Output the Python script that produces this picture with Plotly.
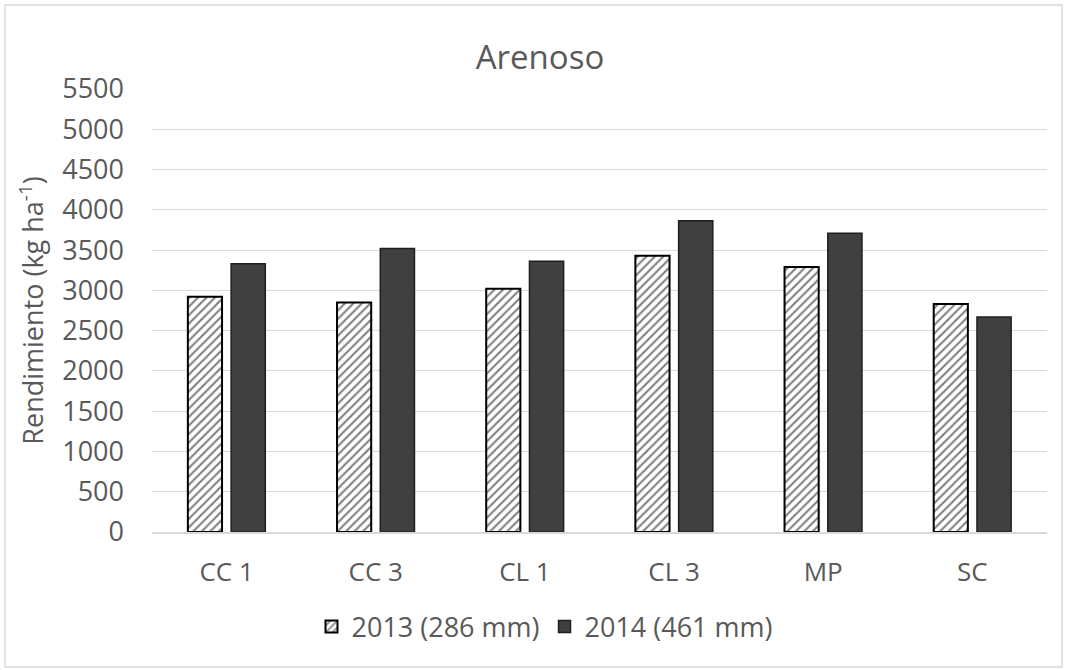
import plotly.graph_objects as go

# Rendimiento por tratamiento en suelo arenoso
categorias = ["CC 1", "CC 3", "CL 1", "CL 3", "MP", "SC"]
serie_2013 = [2920, 2850, 3020, 3430, 3290, 2830]
serie_2014 = [3330, 3520, 3360, 3865, 3710, 2670]
nombre_2013 = "2013 (286 mm)"
nombre_2014 = "2014 (461 mm)"
ticks_y = list(range(0, 5501, 500))

FONT = "Open Sans"
GRIS = "#595959"

W, H = 1065, 670
L, R, T, B = 152, 18, 89, 138

fig = go.Figure()
fig.add_trace(go.Bar(
    x=categorias, y=serie_2013, name=nombre_2013,
    marker=dict(
        color="white",
        line=dict(color="black", width=2),
        pattern=dict(shape="/", fgcolor="black", bgcolor="white", size=6, solidity=0.35),
    ),
))
fig.add_trace(go.Bar(
    x=categorias, y=serie_2014, name=nombre_2014,
    marker=dict(color="#404040", line=dict(color="#1f1f1f", width=1.5)),
))

pw = W - L - R
ph = H - T - B
# outer chart border
fig.add_shape(
    type="rect", xref="paper", yref="paper",
    x0=(5 - L) / pw, x1=(1062 - L) / pw,
    y0=(H - B - 667) / ph, y1=(H - B - 5) / ph,
    line=dict(color="#d9d9d9", width=1.5), fillcolor="rgba(0,0,0,0)", layer="below",
)

fig.update_layout(
    width=W, height=H,
    margin=dict(l=L, r=R, t=T, b=B),
    paper_bgcolor="white", plot_bgcolor="white",
    font=dict(family=FONT, color=GRIS, size=26),
    barmode="group", bargap=0.42, bargroupgap=0.21,
    title=dict(text="Arenoso", font=dict(size=33, color=GRIS, family=FONT),
               xref="container", x=540 / W, xanchor="center",
               yref="container", y=1 - 57 / H, yanchor="middle"),
    showlegend=True,
    legend=dict(orientation="h", xref="container", x=545 / W, xanchor="center",
                yref="container", y=1 - 627 / H, yanchor="middle",
                font=dict(size=27, color=GRIS, family=FONT),
                itemwidth=30, tracegroupgap=0, traceorder="normal"),
    xaxis=dict(showgrid=False, showline=True, linecolor="#d9d9d9", linewidth=1.5,
               ticks="", tickfont=dict(size=26, color=GRIS), ticklabelstandoff=16),
    yaxis=dict(range=[0, 5500], tickvals=ticks_y, showgrid=True, gridcolor="#d9d9d9",
               gridwidth=1, zeroline=False, showline=False, ticks="",
               tickfont=dict(size=27, color=GRIS), ticklabelstandoff=27,
               title=dict(text="Rendimiento (kg ha<sup>-1</sup>)",
                          font=dict(size=27, color=GRIS), standoff=10)),
)

fig.write_html("out.html")
